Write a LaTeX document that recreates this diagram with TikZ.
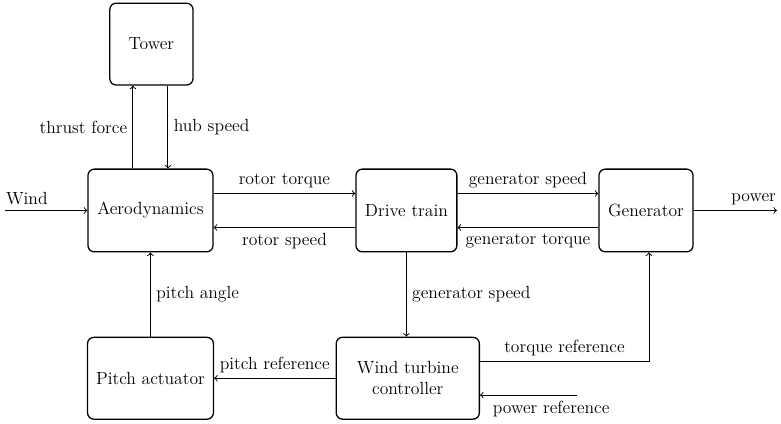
\documentclass[tikz,border=0pt]{standalone}
\usetikzlibrary{positioning}
\tikzset{
  every node/.style = {font=\fontsize{11}{13}\selectfont},
  block/.style = {draw, thick, rounded corners=4pt, align=center, minimum height=1.82cm},
  sig/.style = {->, semithick}
}
\begin{document}
\begin{tikzpicture}
  \useasboundingbox (0,0) rectangle (17.18,-9.31);

  % blocks
  \node[block, minimum width=1.83cm, minimum height=1.80cm] (tower) at (3.33,-0.97) {Tower};
  \node[block, minimum width=2.75cm] (aero) at (3.31,-4.63) {Aerodynamics};
  \node[block, minimum width=2.22cm] (drive) at (8.94,-4.63) {Drive train};
  \node[block, minimum width=2.07cm] (gen) at (14.21,-4.63) {Generator};
  \node[block, minimum width=2.77cm, minimum height=1.80cm] (pitch) at (3.31,-8.32) {Pitch actuator};
  \node[block, minimum width=3.15cm, minimum height=1.80cm] (ctrl) at (8.97,-8.32) {Wind turbine\\controller};

  % free ends
  \coordinate (windin) at (0.11,-4.63);
  \coordinate (powerout) at (17.09,-4.63);
  \coordinate (pref) at (12.69,-8.69);

  % aerodynamics and tower
  \draw[sig] (windin) -- (aero.west) node[at start, above right, xshift=-3pt]{Wind};
  \draw[sig] ([xshift=-0.385cm]aero.north) -- ([xshift=-0.385cm]aero.north |- tower.south)
    node[midway, left]{thrust force};
  \draw[sig] ([xshift=0.385cm]aero.north |- tower.south) -- ([xshift=0.385cm]aero.north)
    node[midway, right]{hub speed};

  % rotor and generator side
  \draw[sig] ([yshift=0.374cm]aero.east) -- ([yshift=0.374cm]drive.west) node[midway, above]{rotor torque};
  \draw[sig] ([yshift=-0.374cm]drive.west) -- ([yshift=-0.374cm]aero.east) node[midway, below]{rotor speed};
  \draw[sig] ([yshift=0.374cm]drive.east) -- ([yshift=0.374cm]gen.west) node[midway, above]{generator speed};
  \draw[sig] ([yshift=-0.374cm]gen.west) -- ([yshift=-0.374cm]drive.east) node[midway, below]{generator torque};
  \draw[sig] (gen.east) -- (powerout) node[at end, above left, xshift=3pt]{power};

  % control loop
  \draw[sig] (drive.south) -- (drive.south |- ctrl.north) node[midway, right]{generator speed};
  \draw[sig] (pitch.north) -- (aero.south) node[midway, right]{pitch angle};
  \draw[sig] (ctrl.west) -- (pitch.east) node[midway, above]{pitch reference};
  \draw[sig] ([yshift=0.374cm]ctrl.east) -- ([yshift=0.374cm, xshift=0.066cm]ctrl.east -| gen.south)
    node[midway, above]{torque reference} -- ([xshift=0.066cm]gen.south);
  \draw[sig] (pref) -- (ctrl.east |- pref) node[midway, below, xshift=0.5cm]{power reference};
\end{tikzpicture}
\end{document}
